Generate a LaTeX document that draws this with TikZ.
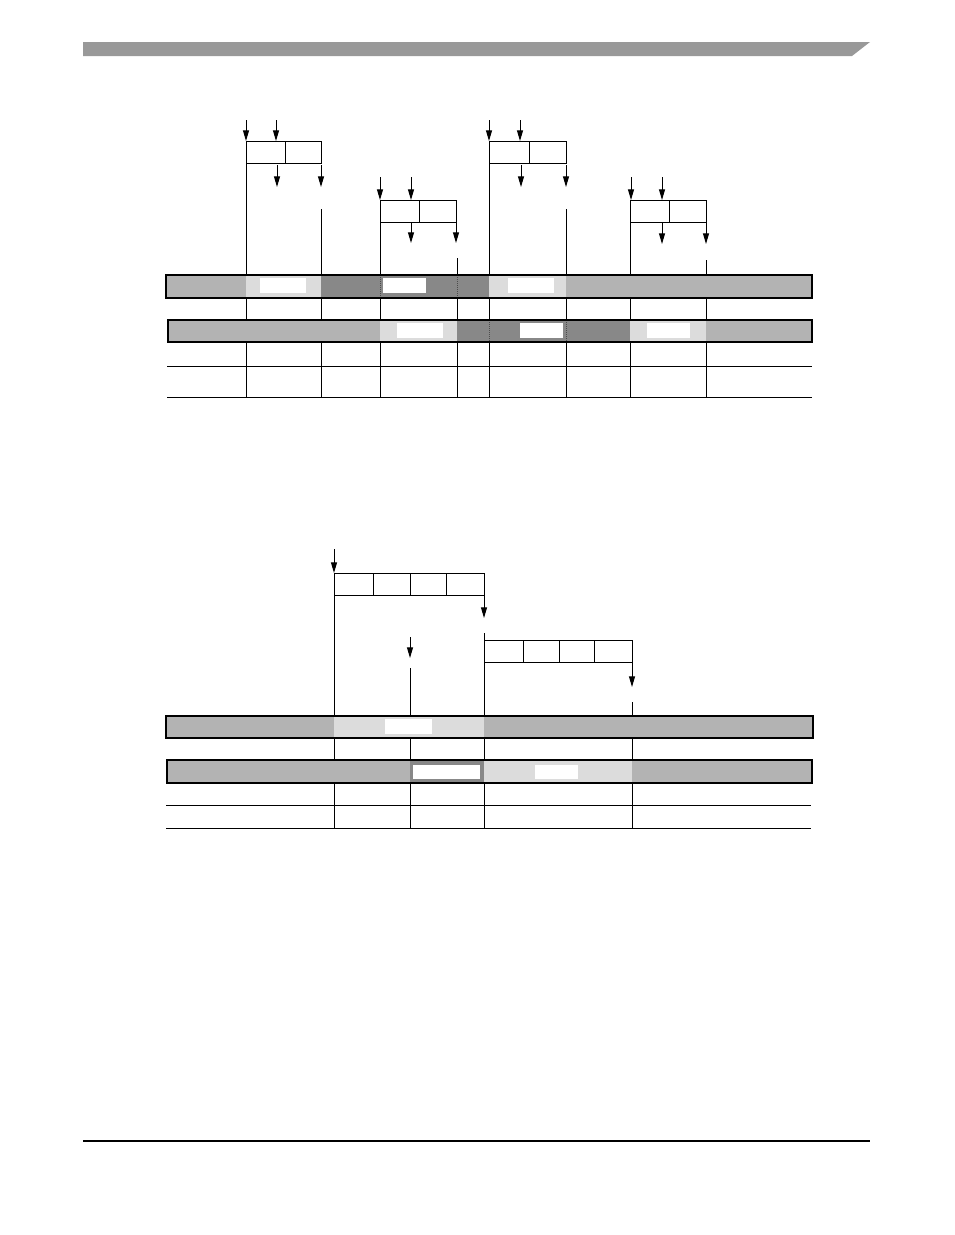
\documentclass[tikz,border=0pt]{standalone}
\usetikzlibrary{arrows.meta}
\definecolor{hdr}{HTML}{999999}
\definecolor{solidg}{HTML}{B3B3B3}
\definecolor{lightp}{HTML}{DCDCDC}
\definecolor{darkp}{HTML}{888888}
\begin{document}
\begin{tikzpicture}[x=0.75pt,y=-0.75pt,line width=0.75pt,
  arr/.style={-{Triangle[length=8pt,width=4.5pt]}},
  barborder/.style={line width=1pt},
  sep/.style={line width=0.5pt,densely dotted,black!70}]
\useasboundingbox (0,0) rectangle (954,1235);
% header and footer
\fill[hdr] (83,42) -- (870,42) -- (852,56) -- (83,56) -- cycle;
\draw[line width=1pt] (83,1141) -- (870,1141);

% ===== top diagram =====
% box 1
\draw (246,141) rectangle (321,163); \draw (285,141) -- (285,163);
\draw[arr] (246,120) -- (246,141); \draw[arr] (276,120) -- (276,141);
\draw[arr] (277,165) -- (277,187); \draw[arr] (321,165) -- (321,187);
\draw (246,163) -- (246,275); \draw (321,209) -- (321,275);
% box 2
\draw (380,200) rectangle (456,222); \draw (419,200) -- (419,222);
\draw[arr] (380,177) -- (380,200); \draw[arr] (411,177) -- (411,200);
\draw[arr] (411,223) -- (411,243); \draw[arr] (456,223) -- (456,243);
\draw (380,222) -- (380,275); \draw (457,258) -- (457,275);
% box 3
\draw (489,141) rectangle (566,163); \draw (529,141) -- (529,163);
\draw[arr] (489,120) -- (489,141); \draw[arr] (520,120) -- (520,141);
\draw[arr] (521,165) -- (521,187); \draw[arr] (566,165) -- (566,187);
\draw (489,163) -- (489,275); \draw (566,209) -- (566,275);
% box 4
\draw (630,200) rectangle (706,222); \draw (669,200) -- (669,222);
\draw[arr] (631,177) -- (631,200); \draw[arr] (662,177) -- (662,200);
\draw[arr] (662,223) -- (662,244); \draw[arr] (706,223) -- (706,244);
\draw (630,222) -- (630,275); \draw (706,260) -- (706,275);

% bar 1
\fill[solidg] (166,275) rectangle (246,298);
\fill[lightp] (246,275) rectangle (321,298);
\fill[darkp] (321,275) rectangle (489,298);
\fill[lightp] (489,275) rectangle (566,298);
\fill[solidg] (566,275) rectangle (812,298);
\fill[white] (260,278) rectangle (306,293);
\fill[white] (383,278) rectangle (426,293);
\fill[white] (508,278) rectangle (554,293);
\draw[sep] (380,275) -- (380,298); \draw[sep] (457,275) -- (457,298);
\draw[barborder] (166,275) rectangle (812,298);
% bar 2
\fill[solidg] (168,320) rectangle (380,342);
\fill[lightp] (380,320) rectangle (457,342);
\fill[darkp] (457,320) rectangle (630,342);
\fill[lightp] (630,320) rectangle (706,342);
\fill[solidg] (706,320) rectangle (812,342);
\fill[white] (397,323) rectangle (443,338);
\fill[white] (520,323) rectangle (563,338);
\fill[white] (647,323) rectangle (690,338);
\draw[sep] (489,320) -- (489,342); \draw[sep] (566,320) -- (566,342);
\draw[barborder] (168,320) rectangle (812,342);
\draw[line width=1.5pt] (168,320) -- (168,342);
% grid
\foreach \x in {246,321,380,457,489,566,630,706} {
  \draw (\x,298) -- (\x,320);
  \draw (\x,342) -- (\x,397);
}
\draw (167,366) -- (812,366);
\draw (167,397) -- (812,397);

% ===== bottom diagram =====
\draw (334,573) rectangle (484,595);
\foreach \x in {373,410,446} \draw (\x,573) -- (\x,595);
\draw[arr] (334,549) -- (334,573);
\draw[arr] (484,596) -- (484,618);
\draw[arr] (410,637) -- (410,658);
\draw (410,668) -- (410,716);
\draw (334,595) -- (334,716);
\draw (484,633) -- (484,716);
\draw (484,640) rectangle (632,662);
\foreach \x in {523,559,594} \draw (\x,640) -- (\x,662);
\draw[arr] (632,663) -- (632,687);
\draw (632,702) -- (632,716);

% bar 1
\fill[solidg] (166,716) rectangle (334,738);
\fill[lightp] (334,716) rectangle (484,738);
\fill[solidg] (484,716) rectangle (813,738);
\fill[white] (385,719) rectangle (432,734);
\draw[barborder] (166,716) rectangle (813,738);
% bar 2
\fill[solidg] (167,760) rectangle (410,783);
\fill[darkp] (410,760) rectangle (484,783);
\fill[lightp] (484,760) rectangle (632,783);
\fill[solidg] (632,760) rectangle (812,783);
\fill[white] (413,765) rectangle (480,779);
\fill[white] (535,765) rectangle (578,779);
\draw[barborder] (167,760) rectangle (812,783);
\draw[line width=1.5pt] (167,760) -- (167,783);
% grid
\foreach \x in {334,410,484,632} {
  \draw (\x,738) -- (\x,760);
  \draw (\x,783) -- (\x,828);
}
\draw (166,805) -- (811,805);
\draw (166,828) -- (811,828);
\end{tikzpicture}
\end{document}
